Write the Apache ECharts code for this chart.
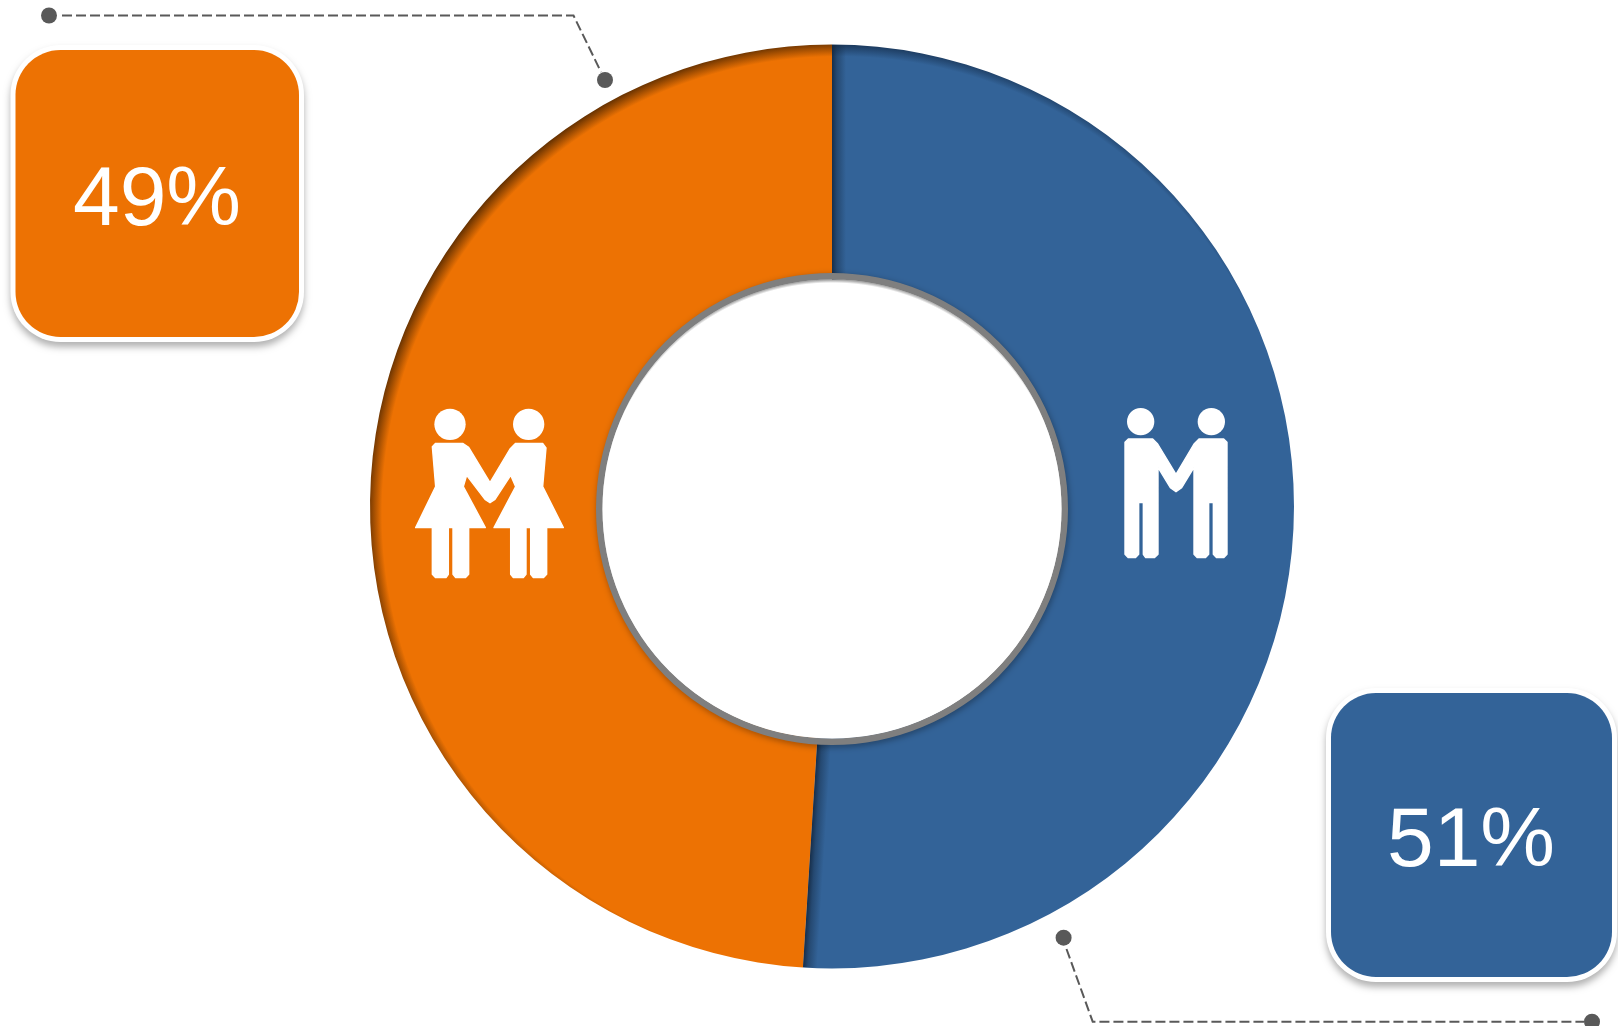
<!DOCTYPE html>
<html>
<head>
<meta charset="utf-8">
<style>html,body{margin:0;padding:0;background:#fff}#c{width:1618px;height:1026px}</style>
<script src="https://cdn.jsdelivr.net/npm/echarts@6/dist/echarts.min.js"></script>
</head>
<body>
<div id="c"></div>
<script>
var categories = ['Male', 'Female'];
var values = [51, 49];
var colors = ['#336398', '#ED7203'];
var edgeColors = ['#0a1a30', '#2a1500'];

var cx = 832, cy = 506.5, rOuter = 462, rInner = 232;
var ringCy = 509, ringR0 = 229.5, ringR = 236;
var font = '"Liberation Sans", Arial, sans-serif';

function edgeShade(i) {
  return {
    type: 'radial', global: true, x: cx + 7, y: cy + 7, r: 478,
    colorStops: [
      { offset: 0, color: colors[i] },
      { offset: 0.956, color: colors[i] },
      { offset: 1, color: edgeColors[i] }
    ]
  };
}

// Soft dark band along the blue slice's two straight edges.
function seamBand(angleDeg, dir) {
  var w = 14, a = angleDeg * Math.PI / 180;
  var ux = Math.sin(a), uy = -Math.cos(a);          // along the seam
  var nx = Math.cos(a) * dir, ny = Math.sin(a) * dir; // into the blue slice
  var p = function (r, d) { return [cx + ux * r + nx * d, cy + uy * r + ny * d]; };
  var s = p(rOuter - 1, 0), e = p(rOuter - 1, w);
  return {
    type: 'polygon', silent: true, z: 20,
    shape: { points: [p(rInner - 6, 0), p(rOuter - 0.5, 0), p(rOuter - 0.5, w), p(rInner - 6, w)] },
    style: {
      fill: {
        type: 'linear', global: true, x: s[0], y: s[1], x2: e[0], y2: e[1],
        colorStops: [
          { offset: 0, color: 'rgba(18,37,60,0.85)' },
          { offset: 0.35, color: 'rgba(18,37,60,0.42)' },
          { offset: 1, color: 'rgba(18,37,60,0)' }
        ]
      }
    }
  };
}

function valueBox(x, y, w, h, color, text, tx, ty) {
  return [
    {
      type: 'rect', silent: true, z: 30,
      shape: { x: x - 5, y: y - 5, width: w + 10, height: h + 10, r: 50 },
      style: {
        fill: '#ffffff',
        shadowColor: 'rgba(0,0,0,0.3)', shadowBlur: 7, shadowOffsetY: 5
      }
    },
    {
      type: 'rect', silent: true, z: 31,
      shape: { x: x, y: y, width: w, height: h, r: 45 },
      style: { fill: color }
    },
    {
      type: 'text', silent: true, z: 32, x: tx, y: ty,
      style: { text: text, fill: '#ffffff', font: '84px ' + font, align: 'center', verticalAlign: 'middle' }
    }
  ];
}

function connector(points, d1, d2) {
  return [
    {
      type: 'polyline', silent: true, z: 25, shape: { points: points },
      style: { stroke: '#595959', lineWidth: 2, lineDash: [10, 4], fill: null }
    },
    { type: 'circle', silent: true, z: 26, shape: { cx: d1[0], cy: d1[1], r: 8 }, style: { fill: '#595959' } },
    { type: 'circle', silent: true, z: 26, shape: { cx: d2[0], cy: d2[1], r: 8 }, style: { fill: '#595959' } }
  ];
}

var femaleShape = [[157,230],[167,220],[248,220],[266,232],[330,338],[390,237],[407,220],[488,220],[498,234],[488,350],[550,473],[500,473],[500,613],[490,623],[460,623],[452,613],[452,473],[438,473],[438,613],[430,623],[400,623],[392,613],[392,473],[342,473],[407,350],[392,316],[345,388],[330,398],[315,388],[260,316],[250,350],[316,473],[266,473],[266,613],[256,623],[227,623],[219,613],[219,473],[205,473],[205,613],[198,623],[167,623],[157,613],[157,473],[107,473],[167,350]];
var femaleHeads = [[210,163,47],[446,163,47]];
var maleShape = [[105,187],[115,177],[188,177],[203,192],[258,283],[312,192],[327,177],[401,177],[411,187],[411,523],[401,533],[380,533],[370,523],[370,368],[356,368],[356,523],[346,533],[322,533],[312,523],[312,262],[275,323],[258,335],[241,323],[204,262],[204,523],[193,533],[167,533],[160,523],[160,368],[146,368],[146,523],[136,533],[115,533],[105,523]];
var maleHeads = [[152,125,41],[364,125,41]];

function icon(ox, oy, shape, heads) {
  var f = function (v, o) { return o + v / 3; };
  var out = [{
    type: 'polygon', silent: true, z: 22,
    shape: { points: shape.map(function (p) { return [f(p[0], ox), f(p[1], oy)]; }) },
    style: { fill: '#ffffff', stroke: '#ffffff', lineWidth: 1.4, lineJoin: 'round' }
  }];
  heads.forEach(function (h) {
    out.push({
      type: 'circle', silent: true, z: 22,
      shape: { cx: f(h[0], ox), cy: f(h[1], oy), r: h[2] / 3 },
      style: { fill: '#ffffff' }
    });
  });
  return out;
}

var seamAngle = values[0] / (values[0] + values[1]) * 360;

var graphics = [].concat(
  [seamBand(0, 1), seamBand(seamAngle, -1)],
  [{
    type: 'ring', silent: true, z: 23,
    shape: { cx: cx, cy: ringCy, r: ringR, r0: ringR0 },
    style: { fill: '#7f7f7f', shadowColor: 'rgba(0,0,0,0.35)', shadowBlur: 6, shadowOffsetX: 1, shadowOffsetY: 2 }
  }, {
    type: 'circle', silent: true, z: 24,
    shape: { cx: cx, cy: ringCy, r: ringR0 },
    style: {
      fill: {
        type: 'radial', global: true, x: cx, y: ringCy + 5, r: 234.5,
        colorStops: [
          { offset: 0, color: '#ffffff' },
          { offset: 0.985, color: '#ffffff' },
          { offset: 1, color: '#9a9a9a' }
        ]
      }
    }
  }],
  icon(380, 370, femaleShape, femaleHeads),
  icon(1090, 380, maleShape, maleHeads),
  connector([[62, 15.5], [573.5, 15.5], [601, 72]], [49, 15.5], [605, 80]),
  connector([[1066.5, 949], [1092.7, 1021.7], [1584, 1021.7]], [1063.6, 937.7], [1592, 1021.7]),
  valueBox(15.5, 50, 283.5, 287, colors[1], values[1] + '%', 157, 202),
  valueBox(1331, 693, 281, 284, colors[0], values[0] + '%', 1471, 843)
);

var chart = echarts.init(document.getElementById('c'), null, { renderer: 'canvas' });
chart.setOption({
  backgroundColor: '#ffffff',
  animation: false,
  series: [{
    type: 'pie',
    center: [cx, cy],
    radius: [rInner, rOuter],
    startAngle: 90,
    clockwise: true,
    silent: true,
    label: { show: false },
    labelLine: { show: false },
    data: categories.map(function (c, i) {
      return { name: c, value: values[i], itemStyle: { color: edgeShade(i) } };
    })
  }],
  graphic: { elements: graphics }
});
</script>
</body>
</html>
